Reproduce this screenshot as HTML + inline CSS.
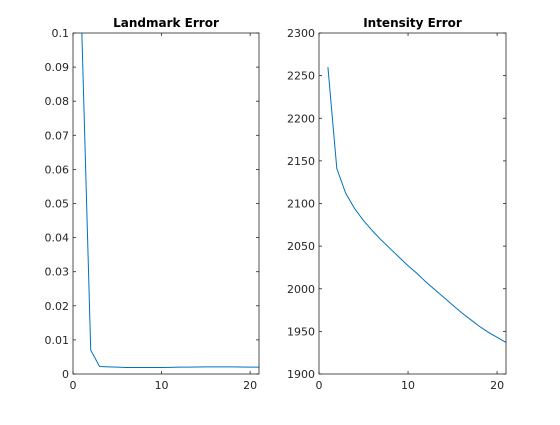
<!DOCTYPE html>
<html><head><meta charset="utf-8"><style>
body{margin:0;background:#fff;font-family:"Liberation Sans",sans-serif;}
svg text{font-family:"DejaVu Sans","Liberation Sans",sans-serif;font-size:11px;fill:#262626;}
</style></head><body>
<svg id="c" width="560" height="420"></svg>
<script>
const landmarkX=[1,2,3,4,5,6,7,8,9,10,11,12,13,14,15,16,17,18,19,20,21];
const landmarkY=[0.1,0.007,0.0022,0.0021,0.002,0.0019,0.0019,0.0019,0.0019,0.0019,0.00195,0.002,0.002,0.00205,0.0021,0.0021,0.0021,0.0021,0.00205,0.002,0.002];
const intensityX=[1,2,3,4,5,6,7,8,9,10,11,12,13,14,15,16,17,18,19,20,21];
const intensityY=[2260,2141,2112,2094,2080,2068,2057,2047,2037,2027,2018,2008,1999,1990,1981,1972,1964,1956,1949,1943,1937];
const leftYTicks=[0,0.01,0.02,0.03,0.04,0.05,0.06,0.07,0.08,0.09,0.1];
const leftYLabels=["0","0.01","0.02","0.03","0.04","0.05","0.06","0.07","0.08","0.09","0.1"];
const rightYTicks=[1900,1950,2000,2050,2100,2150,2200,2250,2300];
const xTicks=[0,10,20];
const NS="http://www.w3.org/2000/svg";
const svg=document.getElementById('c');
function mk(t,a,p){const e=document.createElementNS(NS,t);for(const k in a)e.setAttribute(k,a[k]);(p||svg).appendChild(e);return e;}
function panel(x0,x1,y0,y1,ymin,ymax,xs,ys,yt,yl,title,key){
  const g=mk('g',{});
  
  
  const sx=v=>x0+(v-0)/21*(x1-x0), sy=v=>y1-(v-ymin)/(ymax-ymin)*(y1-y0);
  const cp=mk('clipPath',{id:'cp'+key},g);mk('rect',{x:x0,y:y0,width:x1-x0,height:y1-y0},cp);
  const line=mk('polyline',{points:xs.map((v,i)=>sx(v)+','+sy(ys[i])).join(' '),fill:'none',stroke:'#0072bd','stroke-width':1,'clip-path':'url(#cp'+key+')'},g);
  
  
  const box=mk('rect',{x:x0,y:y0,width:x1-x0,height:y1-y0,fill:'none',stroke:'#262626','stroke-width':0.8},g);
  
  
  yt.forEach((v,i)=>{const y=sy(v);
    mk('line',{x1:x0,x2:x0+3,y1:y,y2:y,stroke:'#262626','stroke-width':0.8},g);
    mk('line',{x1:x1,x2:x1-3,y1:y,y2:y,stroke:'#262626','stroke-width':0.8},g);
    const t=mk('text',{x:x0-4,y:y+4,'text-anchor':'end'},g);t.textContent=yl[i];
    
    });
  xTicks.forEach(v=>{const x=sx(v);
    mk('line',{x1:x,x2:x,y1:y1,y2:y1-3,stroke:'#262626','stroke-width':0.8},g);
    mk('line',{x1:x,x2:x,y1:y0,y2:y0+3,stroke:'#262626','stroke-width':0.8},g);
    const t=mk('text',{x:x,y:y1+15,'text-anchor':'middle'},g);t.textContent=v;
    
    });
  const tt=mk('text',{x:(x0+x1)/2,y:y0-6,'text-anchor':'middle','font-weight':'bold',style:'font-size:12px;fill:#000'},g);tt.textContent=title;
  
  
}
panel(73,259,33,374,0,0.1,landmarkX,landmarkY,leftYTicks,leftYLabels,'Landmark Error','landmark');
panel(319,506,33,374,1900,2300,intensityX,intensityY,rightYTicks,rightYTicks.map(String),'Intensity Error','intensity');
</script>
</body></html>
